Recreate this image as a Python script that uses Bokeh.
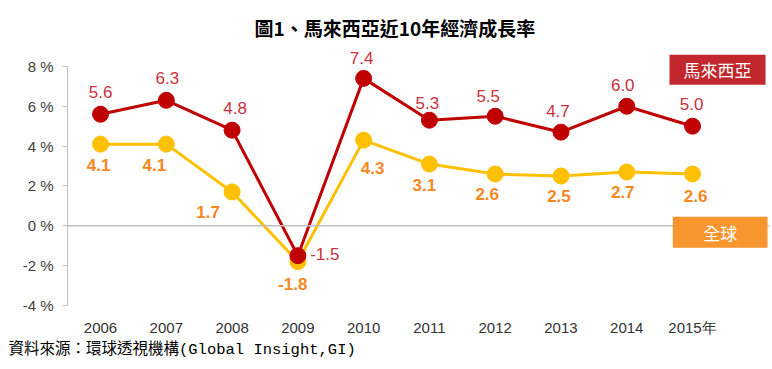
from bokeh.plotting import figure
from bokeh.models import (ColumnDataSource, Range1d, FixedTicker, Span, Label, Title, BoxAnnotation)
from bokeh.core.properties import value
from bokeh.embed import file_html
from bokeh.resources import INLINE

# ---- data ----
years = [2006, 2007, 2008, 2009, 2010, 2011, 2012, 2013, 2014, 2015]
malaysia = [5.6, 6.3, 4.8, -1.5, 7.4, 5.3, 5.5, 4.7, 6.0, 5.0]
world = [4.1, 4.1, 1.7, -1.8, 4.3, 3.1, 2.6, 2.5, 2.7, 2.6]
y_ticks = [-4, -2, 0, 2, 4, 6, 8]
title_text = "圖1、馬來西亞近10年經濟成長率"
source_text = "資料來源：環球透視機構(Global Insight,GI)"
name_malaysia = "馬來西亞"
name_world = "全球"

# label offsets (pixels) for value labels
my_dx = [0, 1, 3, 27, -2, -2, -7, -3, -4, -1]
my_dy = [-22, -22, -22, -2, -20, -17, -20, -21, -21, -22]
w_dx = [-2, -12, -24, -5, 9, -5, -8, -2, -4, 3]
w_dy = [21, 21, 20, 22, 28, 21, 20, 20, 20, 22]

RED = "#c00000"
RED_TXT = "#c8323c"
YEL = "#ffc000"
ORG_TXT = "#f7871f"
GRID = "#bfbfbf"

p = figure(width=772, height=369, frame_width=702, frame_height=263,
           output_backend="svg", toolbar_location=None,
           x_range=Range1d(2005.498, 2016.17), y_range=Range1d(-4.15, 9.05))
p.min_border_left = 67
p.min_border_right = 3
p.min_border_top = 45
p.min_border_bottom = 61
p.outline_line_color = None
p.background_fill_color = "white"
p.border_fill_color = "white"
p.xgrid.visible = False
p.ygrid.visible = False

# axes
p.yaxis.ticker = FixedTicker(ticks=y_ticks)
p.yaxis.bounds = (-4, 8)
p.yaxis.major_label_overrides = {t: f"{t} %" for t in y_ticks}
p.yaxis.axis_line_color = GRID
p.yaxis.major_tick_line_color = GRID
p.yaxis.major_tick_out = 5
p.yaxis.major_tick_in = 0
p.yaxis.minor_tick_line_color = None
p.yaxis.major_label_standoff = 9
p.yaxis.major_label_text_font = "Liberation Sans"
p.yaxis.major_label_text_font_size = "15px"
p.yaxis.major_label_text_color = "#404040"

p.xaxis.ticker = FixedTicker(ticks=years)
p.xaxis.major_label_overrides = {2015: "2015年"}
p.xaxis.axis_line_color = None
p.xaxis.major_tick_line_color = None
p.xaxis.minor_tick_line_color = None
p.xaxis.major_tick_out = 0
p.xaxis.major_tick_in = 0
p.xaxis.major_label_standoff = 10
p.xaxis.major_label_text_font = "Liberation Sans"
p.xaxis.major_label_text_font_size = "15px"
p.xaxis.major_label_text_color = "#333333"

# zero line
p.add_layout(Span(location=0, dimension="width", line_color=GRID, line_width=1.5))

src = ColumnDataSource(dict(x=years, my=malaysia, w=world,
                            my_lab=[f"{v:.1f}" for v in malaysia],
                            w_lab=[f"{v:.1f}" for v in world],
                            my_dx=my_dx, my_dy=my_dy, w_dx=w_dx, w_dy=w_dy))

p.line("x", "w", source=src, line_color=YEL, line_width=3)
p.scatter("x", "w", source=src, size=16, fill_color=YEL, line_color=YEL)
p.line("x", "my", source=src, line_color=RED, line_width=3)
p.scatter("x", "my", source=src, size=16, fill_color=RED, line_color=RED)

p.text("x", "my", text="my_lab", source=src, x_offset="my_dx", y_offset="my_dy",
       text_align="center", text_baseline="middle", text_color=RED_TXT,
       text_font=value("Liberation Sans"), text_font_size="17px")
p.text("x", "w", text="w_lab", source=src, x_offset="w_dx", y_offset="w_dy",
       text_align="center", text_baseline="middle", text_color=ORG_TXT,
       text_font=value("Liberation Sans"), text_font_size="17px", text_font_style="bold")

# legend boxes
p.add_layout(BoxAnnotation(left=2014.65, right=2016.11, top=8.585, bottom=7.08,
                           fill_color="#c1272d", fill_alpha=1, line_color=None))
p.add_layout(Label(x=2015.38, y=7.83, text=name_malaysia, text_color="white",
                   text_font="Noto Sans CJK TC", text_font_size="17px",
                   text_align="center", text_baseline="middle"))
p.add_layout(BoxAnnotation(left=2014.70, right=2016.14, top=0.452, bottom=-1.105,
                           fill_color="#f7962e", fill_alpha=1, line_color=None))
p.add_layout(Label(x=2015.42, y=-0.33, text=name_world, text_color="white",
                   text_font="Noto Sans CJK TC", text_font_size="17px",
                   text_align="center", text_baseline="middle"))

p.title = Title(text=title_text, align="left", offset=187, standoff=10,
                text_font="Noto Sans CJK TC",
                text_font_size="19px", text_font_style="bold", text_color="#000000")
p.add_layout(Title(text=source_text, align="left", offset=-59, standoff=0,
                   text_font="'Liberation Mono', 'Noto Sans CJK TC'",
                   text_font_size="15.5px", text_font_style="normal", text_color="#000000"), "below")

open("out.html", "w").write(file_html(p, INLINE))
